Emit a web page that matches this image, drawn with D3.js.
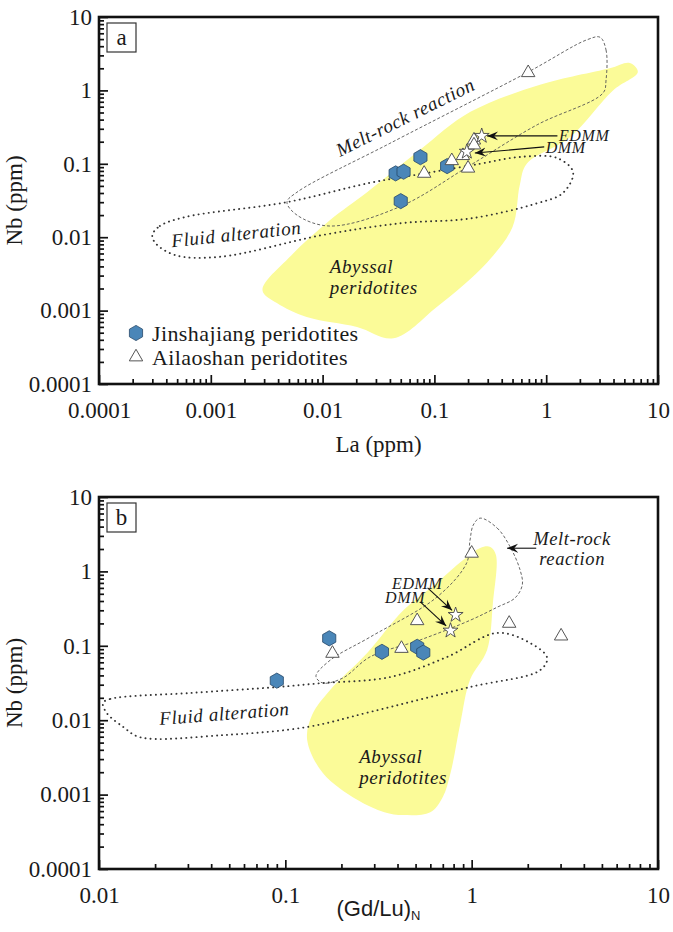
<!DOCTYPE html>
<html>
<head>
<meta charset="utf-8">
<script src="https://cdn.jsdelivr.net/npm/d3@7"></script>
<style>
  body { margin: 0; background: #fff; }
  text { font-family: "Liberation Serif", "Times New Roman", serif; fill: #1a1a1a; }
  .note { font-style: italic; letter-spacing: 0.6px; }
</style>
</head>
<body>
<svg id="fig" width="673" height="932"></svg>
<script>
// ---------- data ----------
const nbTicks = [0.0001, 0.001, 0.01, 0.1, 1, 10];
const nbTickLabels = ["0.0001", "0.001", "0.01", "0.1", "1", "10"];
const laTicks = [0.0001, 0.001, 0.01, 0.1, 1, 10];
const laTickLabels = ["0.0001", "0.001", "0.01", "0.1", "1", "10"];
const gdluTicks = [0.01, 0.1, 1, 10];
const gdluTickLabels = ["0.01", "0.1", "1", "10"];

// panel a: La vs Nb (ppm)
const jinLa = [0.045, 0.053, 0.075, 0.13, 0.05];
const jinNb = [0.074, 0.078, 0.123, 0.093, 0.031];
const ailLa = [0.69, 0.226, 0.226, 0.18, 0.143, 0.20, 0.081];
const ailNb = [1.74, 0.21, 0.18, 0.129, 0.110, 0.087, 0.074];
const mantleA = [["EDMM", 0.265, 0.24], ["DMM", 0.195, 0.146]];

// panel b: (Gd/Lu)N vs Nb (ppm)
const jinGdLu = [0.09, 0.172, 0.33, 0.51, 0.55];
const jinNbB = [0.034, 0.126, 0.083, 0.097, 0.081];
const ailGdLu = [1.0, 0.51, 1.59, 3.02, 0.42, 0.179];
const ailNbB = [1.75, 0.217, 0.20, 0.135, 0.092, 0.079];
const mantleB = [["EDMM", 0.82, 0.26], ["DMM", 0.77, 0.16]];

// outline fields (data units)
const abyssalA = [[0.0029, 0.0019], [0.0051, 0.0054], [0.0116, 0.017], [0.025, 0.041], [0.074, 0.154],
  [0.21, 0.51], [0.88, 1.19], [3.7, 2.0], [5.6, 2.36], [6.6, 1.78], [3.96, 1.0], [1.63, 0.23],
  [0.67, 0.10], [0.58, 0.051], [0.50, 0.0138], [0.295, 0.0045], [0.105, 0.00112], [0.043, 0.00042],
  [0.0203, 0.0006], [0.0072, 0.00082], [0.0039, 0.00127]];
const meltA = [[3.03, 5.3], [3.43, 3.55], [3.43, 1.39], [3.22, 0.92], [0.83, 0.34], [0.21, 0.096],
  [0.049, 0.026], [0.0116, 0.0142], [0.0059, 0.020], [0.0048, 0.030], [0.0059, 0.041], [0.040, 0.19],
  [0.69, 1.78], [2.32, 4.9]];
const fluidA = [[0.0003, 0.0107], [0.00035, 0.0142], [0.00059, 0.0188], [0.0048, 0.030], [0.0265, 0.055],
  [0.086, 0.075], [0.256, 0.10], [0.58, 0.124], [1.25, 0.12], [1.74, 0.077], [1.41, 0.040], [0.83, 0.029],
  [0.21, 0.018], [0.052, 0.0156], [0.010, 0.0107], [0.0012, 0.0054], [0.00048, 0.0057], [0.00032, 0.0083]];

const abyssalB = [[1.26, 2.13], [1.35, 1.66], [1.30, 0.376], [1.21, 0.088], [0.98, 0.035], [0.87, 0.0092],
  [0.77, 0.00195], [0.70, 0.00093], [0.60, 0.00058], [0.43, 0.00053], [0.34, 0.00058], [0.243, 0.00085],
  [0.159, 0.00195], [0.131, 0.0054], [0.139, 0.0117], [0.174, 0.0255], [0.275, 0.08], [0.43, 0.30],
  [0.65, 0.70], [0.90, 1.42], [1.11, 2.07]];
const meltB = [[1.11, 5.2], [1.37, 3.83], [1.61, 2.13], [1.82, 1.04], [1.87, 0.66], [1.71, 0.44],
  [1.37, 0.33], [0.98, 0.22], [0.53, 0.12], [0.285, 0.071], [0.204, 0.037], [0.159, 0.0316],
  [0.146, 0.039], [0.174, 0.064], [0.285, 0.131], [0.65, 0.45], [0.94, 1.30], [0.98, 2.64], [1.02, 4.2]];
const fluidB = [[0.0105, 0.017], [0.0115, 0.0193], [0.0308, 0.0232], [0.090, 0.0279], [0.159, 0.0316],
  [0.365, 0.038], [0.74, 0.071], [1.37, 0.149], [2.06, 0.109], [2.54, 0.069], [2.33, 0.047],
  [0.98, 0.0279], [0.285, 0.0129], [0.131, 0.0081], [0.046, 0.0063], [0.0166, 0.0059],
  [0.0135, 0.0081], [0.011, 0.0125]];

// ---------- drawing ----------
const fig = d3.select("#fig");

fig.append("defs").append("marker")
  .attr("id", "head")
  .attr("markerUnits", "userSpaceOnUse")
  .attr("viewBox", "-11 -5 12 10")
  .attr("markerWidth", 12).attr("markerHeight", 10)
  .attr("orient", "auto")
  .append("path")
  .attr("d", "M0,0 L-11,-4.5 L-7,0 L-11,4.5 Z")
  .attr("fill", "#111");

const hexagon = r => d3.line()(d3.range(6).map(i => {
  const a = Math.PI / 3 * i - Math.PI / 2;
  return [r * Math.cos(a), r * Math.sin(a)];
})) + "Z";
const triangle = d3.symbol().type(d3.symbolTriangle).size(78)();
const star = d3.symbol().type(d3.symbolStar).size(70)();

function panel(cfg) {
  const g = fig.append("g").attr("transform", "translate(" + cfg.left + "," + cfg.top + ")");

  const x = d3.scaleLog().domain(cfg.xDomain).range([0, cfg.width]);
  const y = d3.scaleLog().domain([0.0001, 10]).range([cfg.height, 0]);
  const outline = d3.line()
    .x(d => x(d[0])).y(d => y(d[1]))
    .curve(d3.curveCatmullRomClosed.alpha(0.5));

  // fields
  g.append("path").datum(cfg.abyssal).attr("d", outline).attr("fill", "#fbfb98");
  g.append("path").datum(cfg.melt).attr("d", outline)
    .attr("fill", "none").attr("stroke", "#555").attr("stroke-width", 0.9)
    .attr("stroke-dasharray", "3,2");
  g.append("path").datum(cfg.fluid).attr("d", outline)
    .attr("fill", "none").attr("stroke", "#333").attr("stroke-width", 1.9)
    .attr("stroke-linecap", "round").attr("stroke-dasharray", "0.1,5");

  // notes
  cfg.notes.forEach(n => {
    g.append("text").attr("class", "note")
      .attr("transform", "translate(" + x(n.x) + "," + y(n.y) + ") rotate(" + (n.rotate || 0) + ")")
      .attr("text-anchor", n.anchor || "start")
      .style("font-size", n.size + "px")
      .text(n.text);
  });
  cfg.arrows.forEach(a => {
    g.append("line")
      .attr("x1", x(a[0])).attr("y1", y(a[1]))
      .attr("x2", x(a[2])).attr("y2", y(a[3]))
      .attr("stroke", "#111").attr("stroke-width", 1.1)
      .attr("marker-end", "url(#head)");
  });

  // samples
  g.selectAll(".jin").data(cfg.jinX).join("path")
    .attr("transform", (d, i) => "translate(" + x(d) + "," + y(cfg.jinY[i]) + ")")
    .attr("d", hexagon(7.6))
    .attr("fill", "#4a86b8").attr("stroke", "#27496a").attr("stroke-width", 0.8);
  g.selectAll(".ail").data(cfg.ailX).join("path")
    .attr("transform", (d, i) => "translate(" + x(d) + "," + y(cfg.ailY[i]) + ")")
    .attr("d", triangle)
    .attr("fill", "#fff").attr("stroke", "#555").attr("stroke-width", 1);
  g.selectAll(".mantle").data(cfg.mantle).join("path")
    .attr("transform", d => "translate(" + x(d[1]) + "," + y(d[2]) + ")")
    .attr("d", star)
    .attr("fill", "#fff").attr("stroke", "#444").attr("stroke-width", 0.9);

  // axes, ticks pointing inward
  const minorX = x.ticks().filter(v => !cfg.xTicks.includes(+v.toPrecision(1)));
  const minorY = y.ticks().filter(v => !nbTicks.includes(+v.toPrecision(1)));

  const xAxis = g.append("g").attr("transform", "translate(0," + cfg.height + ")");
  xAxis.append("g").call(d3.axisBottom(x).tickValues(cfg.xTicks).tickSize(-9).tickPadding(18)
    .tickFormat((d, i) => cfg.xLabels[i]));
  xAxis.append("g").call(d3.axisBottom(x).tickValues(minorX).tickSize(-5).tickFormat(""));

  const yAxis = g.append("g");
  yAxis.append("g").call(d3.axisLeft(y).tickValues(nbTicks).tickSize(-9).tickPadding(7)
    .tickFormat((d, i) => nbTickLabels[i]));
  yAxis.append("g").call(d3.axisLeft(y).tickValues(minorY).tickSize(-5).tickFormat(""));

  g.selectAll(".domain").remove();
  g.selectAll(".tick line").attr("stroke", "#111").attr("stroke-width", 1.7);
  g.selectAll(".tick text")
    .style("font-family", "'Liberation Serif', serif")
    .style("font-size", "23px").attr("fill", "#1a1a1a");

  // frame
  g.append("rect").attr("width", cfg.width).attr("height", cfg.height)
    .attr("fill", "none").attr("stroke", "#111").attr("stroke-width", 2.6);

  // panel letter
  g.append("rect").attr("x", 8).attr("y", 6).attr("width", 29).attr("height", 29)
    .attr("fill", "#fff").attr("stroke", "#333").attr("stroke-width", 1.2);
  g.append("text").attr("x", 22.5).attr("y", 28).attr("text-anchor", "middle")
    .style("font-size", "23px").text(cfg.letter);

  // axis titles
  g.append("text")
    .attr("transform", "translate(-77," + (cfg.height / 2) + ") rotate(-90)")
    .attr("text-anchor", "middle").style("font-size", "23px")
    .text("Nb (ppm)");

  return { g: g, x: x, y: y };
}

// panel a
const pa = panel({
  left: 99, top: 17, width: 559, height: 367,
  xDomain: [0.0001, 10], xTicks: laTicks, xLabels: laTickLabels, letter: "a",
  abyssal: abyssalA, melt: meltA, fluid: fluidA,
  jinX: jinLa, jinY: jinNb, ailX: ailLa, ailY: ailNb, mantle: mantleA,
  notes: [
    { text: "Melt-rock reaction", x: 0.0143, y: 0.124, rotate: -26.5, size: 19 },
    { text: "Fluid alteration", x: 0.00045, y: 0.0073, rotate: -6, size: 19 },
    { text: "Abyssal", x: 0.0116, y: 0.00325, size: 19 },
    { text: "peridotites", x: 0.0116, y: 0.00168, size: 19 },
    { text: "EDMM", x: 1.3, y: 0.205, size: 16 },
    { text: "DMM", x: 0.99, y: 0.14, size: 16 }
  ],
  arrows: [[1.26, 0.24, 0.296, 0.24], [0.96, 0.17, 0.23, 0.14]]
});

pa.g.append("text").attr("x", 279.5).attr("y", 435).attr("text-anchor", "middle")
  .style("font-size", "23px").text("La (ppm)");

// legend
const legend = pa.g.append("g").attr("transform", "translate(37,316)");
legend.append("path").attr("d", hexagon(7.6))
  .attr("fill", "#4a86b8").attr("stroke", "#27496a").attr("stroke-width", 0.8);
legend.append("text").attr("x", 16).attr("y", 7.5).style("font-size", "22px")
  .style("letter-spacing", "0.4px").text("Jinshajiang peridotites");
legend.append("path").attr("d", triangle).attr("transform", "translate(0,24)")
  .attr("fill", "#fff").attr("stroke", "#555").attr("stroke-width", 1);
legend.append("text").attr("x", 16).attr("y", 31.5).style("font-size", "22px")
  .style("letter-spacing", "0.4px").text("Ailaoshan peridotites");

// panel b
const pb = panel({
  left: 99, top: 497, width: 559, height: 372,
  xDomain: [0.01, 10], xTicks: gdluTicks, xLabels: gdluTickLabels, letter: "b",
  abyssal: abyssalB, melt: meltB, fluid: fluidB,
  jinX: jinGdLu, jinY: jinNbB, ailX: ailGdLu, ailY: ailNbB, mantle: mantleB,
  notes: [
    { text: "Melt-rock", x: 3.46, y: 2.26, size: 18.5, anchor: "middle" },
    { text: "reaction", x: 3.46, y: 1.22, size: 18.5, anchor: "middle" },
    { text: "Fluid alteration", x: 0.0212, y: 0.0086, rotate: -4.5, size: 19 },
    { text: "Abyssal", x: 0.249, y: 0.00266, size: 19 },
    { text: "peridotites", x: 0.249, y: 0.00139, size: 19 },
    { text: "EDMM", x: 0.374, y: 0.58, size: 16 },
    { text: "DMM", x: 0.343, y: 0.376, size: 16 }
  ],
  arrows: [[2.22, 2.05, 1.55, 2.05], [0.58, 0.60, 0.785, 0.30], [0.53, 0.39, 0.73, 0.185]]
});

const gdTitle = pb.g.append("text").attr("x", 279.5).attr("y", 419).attr("text-anchor", "middle")
  .style("font-family", "'Liberation Sans Narrow', 'Liberation Sans', Arial, sans-serif")
  .style("font-size", "22px");
gdTitle.append("tspan").text("(Gd/Lu)");
gdTitle.append("tspan").attr("dy", 4).style("font-size", "13px").text("N");
</script>
</body>
</html>
